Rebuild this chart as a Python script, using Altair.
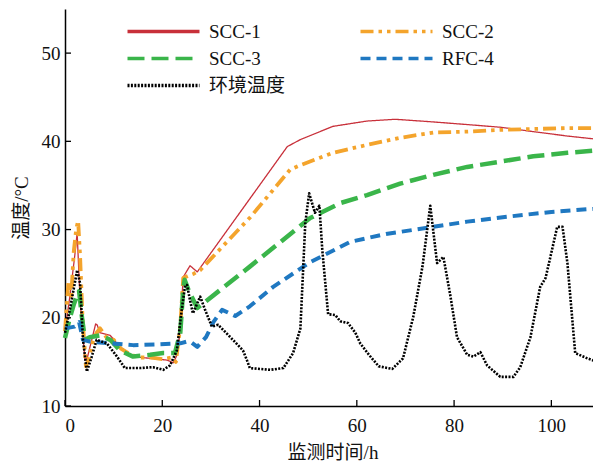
import altair as alt
import pandas as pd

# ---------------- data ----------------
series_names = ["SCC-1", "SCC-2", "SCC-3", "RFC-4", "环境温度"]
series_colors = ["#c8303a", "#f4a42c", "#3ab54a", "#1f78c1", "#000000"]
series_dash = [[1, 0], [13, 5, 3.5, 5, 3.5, 5], [17, 7], [10, 6], [2, 1.4]]
series_width = [1.3, 3.8, 4.5, 4.0, 2.6]

scc1_t = [0, 1, 2, 2.5, 3.1, 4.1, 4.6, 5.5, 6.3, 6.6, 7.2, 9.3, 11.3, 14, 17.5, 21, 22.3,
          23.2, 23.7, 24.3, 25.7, 27.2, 45.7, 48.4, 55.1, 62.1, 67.9, 75.7, 82.7, 89.5,
          96.3, 103.3, 110]
scc1_v = [18.6, 22.4, 27, 29.6, 22, 15.2, 15.5, 17.5, 19.3, 19.2, 18.3, 18, 16.7, 15.6, 15.4,
          15.2, 14.9, 16, 19, 24.6, 25.9, 25.2, 39.4, 40.2, 41.7, 42.3, 42.5, 42.2, 41.9, 41.6,
          41.1, 40.6, 40.2]

scc2_t = [0, 0.7, 1.3, 1.8, 2.3, 2.7, 3.1, 3.6, 4.3, 5, 5.8, 6.5, 7.2, 8.5, 10, 11.5, 13, 15,
          17.5, 20, 22, 22.8, 23.7, 24.3, 25.5, 26.5, 27.8, 38.1, 46.3, 48.4, 55.1, 62.1, 68.9,
          75.7, 82.7, 89.5, 96.3, 103.3, 110]
scc2_v = [18.5, 24, 22.5, 27.5, 30, 31, 27, 20, 14.5, 15.5, 17.5, 18.3, 18.8, 17.8, 17.5, 16.5,
          16, 15.5, 15.5, 15.3, 15.5, 15.0, 19, 24.5, 24.8, 25, 25.4, 31.4, 36.8, 37.3, 38.7,
          39.6, 40.4, 41.0, 41.1, 41.3, 41.4, 41.5, 41.5]

scc3_t = [0, 1, 1.8, 2.4, 2.9, 3.5, 4.1, 5.1, 7.2, 9.3, 11.3, 14, 17.5, 20.2, 22.6, 23.7, 24.3,
          24.6, 25.5, 27.2, 38, 50.4, 56.6, 62.1, 68.9, 75.7, 82.7, 89.5, 96.3, 103.3, 110]
scc3_v = [17.7, 20, 21.5, 22.4, 23, 20, 17.5, 17.8, 18, 17.5, 16.3, 15.6, 15.8, 16, 16, 18.3,
          23.2, 24.3, 23, 21.1, 25.8, 31.3, 33.0, 33.9, 35.2, 36.2, 37.1, 37.7, 38.3, 38.7, 39.0]

rfc4_t = [0, 2, 2.9, 3.7, 5.1, 9.3, 14, 19.5, 23.7, 25, 26, 27.2, 29, 30.5, 32.3, 33.5, 35, 38,
          42.8, 50.4, 58.6, 66, 74.5, 82.7, 90, 100, 110]
rfc4_v = [18.8, 19, 19.5, 17.5, 17.3, 17.1, 16.9, 17, 17.1, 17.3, 17.2, 16.7, 17.8, 19.5, 20.9,
          20.6, 20.2, 21.3, 23.5, 26.3, 28.6, 29.5, 30.2, 30.9, 31.4, 32.0, 32.4]

amb_t = [0, 1, 2.5, 3.1, 3.7, 4.5, 5.5, 6.5, 8.6, 10.7, 12.3, 15.4, 18.1, 20.2, 21.6, 23, 24,
         24.7, 25.1, 25.7, 26.3, 27.8, 28.8, 30.2, 31.5, 34, 36.6, 37.4, 38, 42.2, 44.9, 46.9,
         48.4, 49.4, 50.2, 51.4, 52.3, 52.9, 54.1, 55.6, 56.6, 58.2, 59.7, 60.7, 62.5, 64.5,
         67.3, 69.5, 71.6, 73.5, 75.1, 76.5, 77.8, 79.2, 80.6, 82.7, 84, 85.4, 86.8, 89.5, 92.2,
         93.6, 95.7, 97.7, 98.8, 99.8, 101.2, 102.3, 103.3, 104.9, 107.4, 110]
amb_v = [18.3, 20.9, 25.4, 23.9, 17.5, 13.9, 15.6, 17.5, 17.1, 15.6, 14.3, 14.3, 14.4, 14.1,
         14.6, 16.3, 20.9, 23.7, 23.7, 22, 20.5, 22.4, 20.9, 19, 19.2, 17.8, 16.3, 15.2, 14.3,
         14.1, 14.3, 16, 18.8, 30.7, 34.1, 31.9, 32.7, 27.7, 20.4, 20.3, 19.6, 19.4, 18.3, 17.1,
         15.8, 14.5, 14.2, 15.4, 20.1, 25.8, 32.7, 26.2, 26.9, 22.6, 17.8, 15.8, 15.6, 16.1,
         14.6, 13.3, 13.3, 14.4, 17.8, 23.5, 24.5, 26.9, 30.3, 30.3, 26.2, 16, 15.4, 14.9]

x_ticks = [0, 20, 40, 60, 80, 100]
y_ticks = [10, 20, 30, 40, 50]

# ---------------- table ----------------
rows = []
for name, w, ts, vs in zip(series_names, series_width,
                           [scc1_t, scc2_t, scc3_t, rfc4_t, amb_t],
                           [scc1_v, scc2_v, scc3_v, rfc4_v, amb_v]):
    for i, (a, b) in enumerate(zip(ts, vs)):
        rows.append({"s": name, "t": a, "T": b, "o": i, "w": w})
df = pd.DataFrame(rows)

FONT = "'Liberation Serif', 'Noto Sans CJK SC'"
PLOT_W = 528
x_scale = alt.Scale(domain=[0, 110], range=[0, 535], nice=False, zero=False)
y_scale = alt.Scale(domain=[10, 55], nice=False, zero=False)
x_axis = alt.Axis(values=x_ticks, title="监测时间/h", labelPadding=10, titlePadding=8)
y_axis = alt.Axis(values=y_ticks, title="温度/°C", labelPadding=5, titlePadding=10)

leg = alt.Legend(
    orient="none", legendX=84.5, legendY=8.5, columns=2, direction="horizontal",
    columnPadding=68, rowPadding=3,
    symbolType="M-3,0H3", symbolSize=576, symbolStrokeWidth=3.4,
    labelFont=FONT, labelFontSize=19,
    labelColor="#111111", labelOffset=31.5, title=None,
)

lines = alt.Chart(df).mark_line(strokeJoin="round").encode(
    x=alt.X("t:Q", scale=x_scale, axis=x_axis),
    y=alt.Y("T:Q", scale=y_scale, axis=y_axis),
    color=alt.Color("s:N", scale=alt.Scale(domain=series_names, range=series_colors), legend=leg),
    strokeDash=alt.StrokeDash("s:N", scale=alt.Scale(domain=series_names, range=series_dash), legend=leg),
    strokeWidth=alt.StrokeWidth("w:Q", scale=None, legend=None),
    order="o:Q",
)

xt = alt.Chart(pd.DataFrame({"t": x_ticks})).mark_rule(color="black", strokeWidth=1.3).encode(
    x=alt.X("t:Q", scale=x_scale, axis=x_axis), y=alt.value(397), y2=alt.value(391))
yt = alt.Chart(pd.DataFrame({"T": y_ticks})).mark_rule(color="black", strokeWidth=1.3).encode(
    y=alt.Y("T:Q", scale=y_scale, axis=y_axis), x=alt.value(0), x2=alt.value(6))

chart = alt.layer(lines, xt, yt).properties(
    width=PLOT_W, height=397,
    padding={"left": 57, "top": 1, "right": 0, "bottom": 57},
    autosize=alt.AutoSizeParams(type="none"),
).configure_view(strokeWidth=0).configure_axis(
    domainColor="black", domainWidth=1.5, ticks=False, grid=False,
    labelFont=FONT, labelFontSize=19, labelColor="#111111",
    titleFont=FONT, titleFontSize=19, titleFontWeight="normal", titleColor="#111111",
)

chart.save("out.html", embed_options={"renderer": "svg", "actions": False})
